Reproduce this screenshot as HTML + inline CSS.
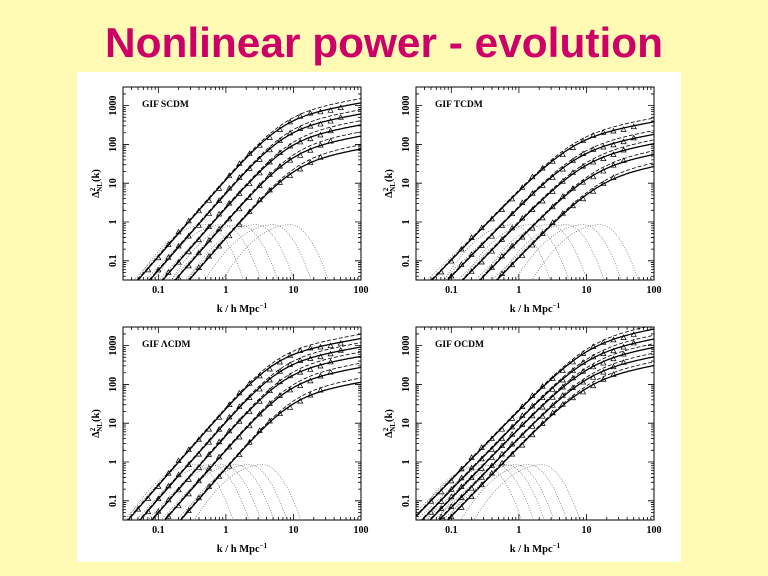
<!DOCTYPE html>
<html><head><meta charset="utf-8"><style>
html,body{margin:0;padding:0;background:#fffbb5;width:768px;height:576px;overflow:hidden;position:relative;}
svg{position:absolute;left:0;top:0;}
</style></head><body>
<svg id="s" width="768" height="576" xmlns="http://www.w3.org/2000/svg" overflow="hidden">
<rect width="768" height="576" fill="#fffbb5"/>
<text x="105" y="57" font-family="Liberation Sans, sans-serif" font-weight="bold" font-size="42" fill="#cc0066" textLength="558" lengthAdjust="spacingAndGlyphs">Nonlinear power - evolution</text>
<rect x="77" y="72" width="604" height="490" fill="#ffffff"/>
<defs id="defs"></defs>
<g id="g"></g>
</svg>
<script>
var NS="http://www.w3.org/2000/svg",G=document.getElementById('g'),D=document.getElementById('defs');
function el(t,a,txt){var e=document.createElementNS(NS,t);for(var k in a)e.setAttribute(k,a[k]);if(txt!=null)e.textContent=txt;G.appendChild(e);return e;}
var L10=Math.log10;
var panels=[
 {x:123,y:87,name:"GIF SCDM",k1:[0.28,0.42,0.65,1.0,1.6],kb:[6.4,7,8,9,10],n:2,h:0.3,bp:[0.5,0.9,1.6,2.8,5,9]},
 {x:416,y:87,name:"GIF TCDM",k1:[0.35,0.6,1.0,1.8,3.2],kb:[6,7,9,12,15],n:1.8,h:0.3,bp:[0.8,1.5,2.8,5,9,16]},
 {x:123,y:327,name:"GIF \u039BCDM",k1:[0.2,0.3,0.45,0.7,1.2],kb:[5,6,7,8,9],n:2,h:0.3,bp:[0.35,0.6,0.9,1.4,2.2,3.5]},
 {x:416,y:327,name:"GIF OCDM",k1:[0.18,0.25,0.33,0.45,0.6],kb:[10,10,10,10,10],n:1.8,h:0.3,bp:[0.3,0.45,0.65,0.9,1.4,2.2]}
];
var W=238,H=193,lx0=L10(0.03),lx1=2,ly0=L10(0.032),ly1=3.48;
panels.forEach(function(p){
 function X(u){return p.x+(u-lx0)/(lx1-lx0)*W;}
 function Y(v){return p.y+H-(v-ly0)/(ly1-ly0)*H;}
 var cid="c"+p.x+"_"+p.y;
 var cp=document.createElementNS(NS,"clipPath");cp.setAttribute("id",cid);D.appendChild(cp);
 var r=document.createElementNS(NS,"rect");
 r.setAttribute("x",p.x);r.setAttribute("y",p.y);r.setAttribute("width",W);r.setAttribute("height",H);cp.appendChild(r);
 function f(u,k1,kb){var k=Math.pow(10,u);return p.n*L10(k/k1)-L10(1+Math.pow(k/kb,p.n-p.h));}
 function path(fn,attrs,ua,ub){var d="";for(var u=ua;u<=ub+1e-9;u+=0.02){var v=fn(u);if(isNaN(v))continue;d+=(d?"L":"M")+X(u).toFixed(1)+" "+Y(v).toFixed(1);}attrs.d=d;attrs.fill="none";attrs["clip-path"]="url(#"+cid+")";el("path",attrs);}
 p.bp.forEach(function(b){var up=L10(b);path(function(u){var t=u-up;return -0.07-(t<0?1.4*t*t:4.5*t*t);},{stroke:"#555","stroke-width":0.6,"stroke-dasharray":"1 1.5"},up-1.3,up+0.9);});
 for(var i=0;i<5;i++){(function(k1,kb,i){
  path(function(u){return p.n*L10(Math.pow(10,u)/k1)-0.15*(u-L10(k1));},{stroke:"#555","stroke-width":0.6,"stroke-dasharray":"1 1.5"},L10(k1)-1.5,L10(k1)+0.35);
  path(function(u){return f(u,k1*0.98,kb*1.12)+0.01;},{stroke:"#000","stroke-width":0.8,"stroke-dasharray":"4 2"},-1.6,2);
  path(function(u){return f(u,k1,kb);},{stroke:"#000","stroke-width":1.3},-1.6,2);
  for(var u=-1.3;u<=1.7;u+=0.15){var v=f(u,k1,kb)+0.04*Math.sin(u*7+i);if(v<ly0+0.05||v>ly1-0.05)continue;
   var kx=Math.pow(10,u);if(kx<0.05)continue;if(kx>60-i*8)continue;
   var cx=X(u),cy=Y(v);el("path",{d:"M"+(cx-2.5)+" "+(cy+2)+"L"+cx+" "+(cy-2.5)+"L"+(cx+2.5)+" "+(cy+2)+"Z",fill:"none",stroke:"#000","stroke-width":0.7});}
 })(p.k1[i],p.kb[i],i);}
 el("rect",{x:p.x,y:p.y,width:W,height:H,fill:"none",stroke:"#000","stroke-width":1});
 var tk="";
 for(var d=-2;d<=2;d++)for(var m=1;m<10;m++){var u=d+L10(m);if(u<lx0||u>lx1)continue;var x=X(u),len=m==1?6:3;tk+="M"+x+" "+(p.y+H)+"v"+(-len)+"M"+x+" "+p.y+"v"+len;}
 for(var d=-2;d<=3;d++)for(var m=1;m<10;m++){var v=d+L10(m);if(v<ly0||v>ly1)continue;var y=Y(v),len=m==1?6:3;tk+="M"+p.x+" "+y+"h"+len+"M"+(p.x+W)+" "+y+"h"+(-len);}
 el("path",{d:tk,stroke:"#000","stroke-width":0.8,fill:"none"});
 var ff="Liberation Serif, serif";
 [["0.1",-1],["1",0],["10",1],["100",2]].forEach(function(t){el("text",{x:X(t[1]),y:p.y+H+13,"text-anchor":"middle","font-family":ff,"font-size":10,"font-weight":"bold"},t[0]);});
 [["0.1",-1],["1",0],["10",1],["100",2],["1000",3]].forEach(function(t){var x=p.x-7,y=Y(t[1]);el("text",{x:x,y:y,"text-anchor":"middle","font-family":ff,"font-size":10,"font-weight":"bold",transform:"rotate(-90 "+x+" "+y+")"},t[0]);});
 el("text",{x:p.x+W/2,y:p.y+H+32,"text-anchor":"middle","font-family":ff,"font-size":10.5,"font-weight":"bold"},"k / h Mpc").appendChild((function(){var s=document.createElementNS(NS,"tspan");s.setAttribute("dy","-4");s.setAttribute("font-size","7");s.textContent="\u22121";return s;})());
 var yx=p.x-24,yy=p.y+H/2;
 var t=el("text",{x:yx,y:yy,"text-anchor":"middle","font-family":ff,"font-size":10.5,"font-weight":"bold",transform:"rotate(-90 "+yx+" "+yy+")"},"\u0394");
 var s1=document.createElementNS(NS,"tspan");s1.setAttribute("dy","-4");s1.setAttribute("font-size","7");s1.textContent="2";t.appendChild(s1);
 var s2=document.createElementNS(NS,"tspan");s2.setAttribute("dx","-4");s2.setAttribute("dy","7");s2.setAttribute("font-size","7");s2.textContent="NL";t.appendChild(s2);
 var s3=document.createElementNS(NS,"tspan");s3.setAttribute("dy","-3");s3.textContent="(k)";t.appendChild(s3);
 el("text",{x:p.x+19,y:p.y+20,"font-family":ff,"font-size":9.5,"font-weight":"bold"},p.name);
});
</script>
</body></html>
